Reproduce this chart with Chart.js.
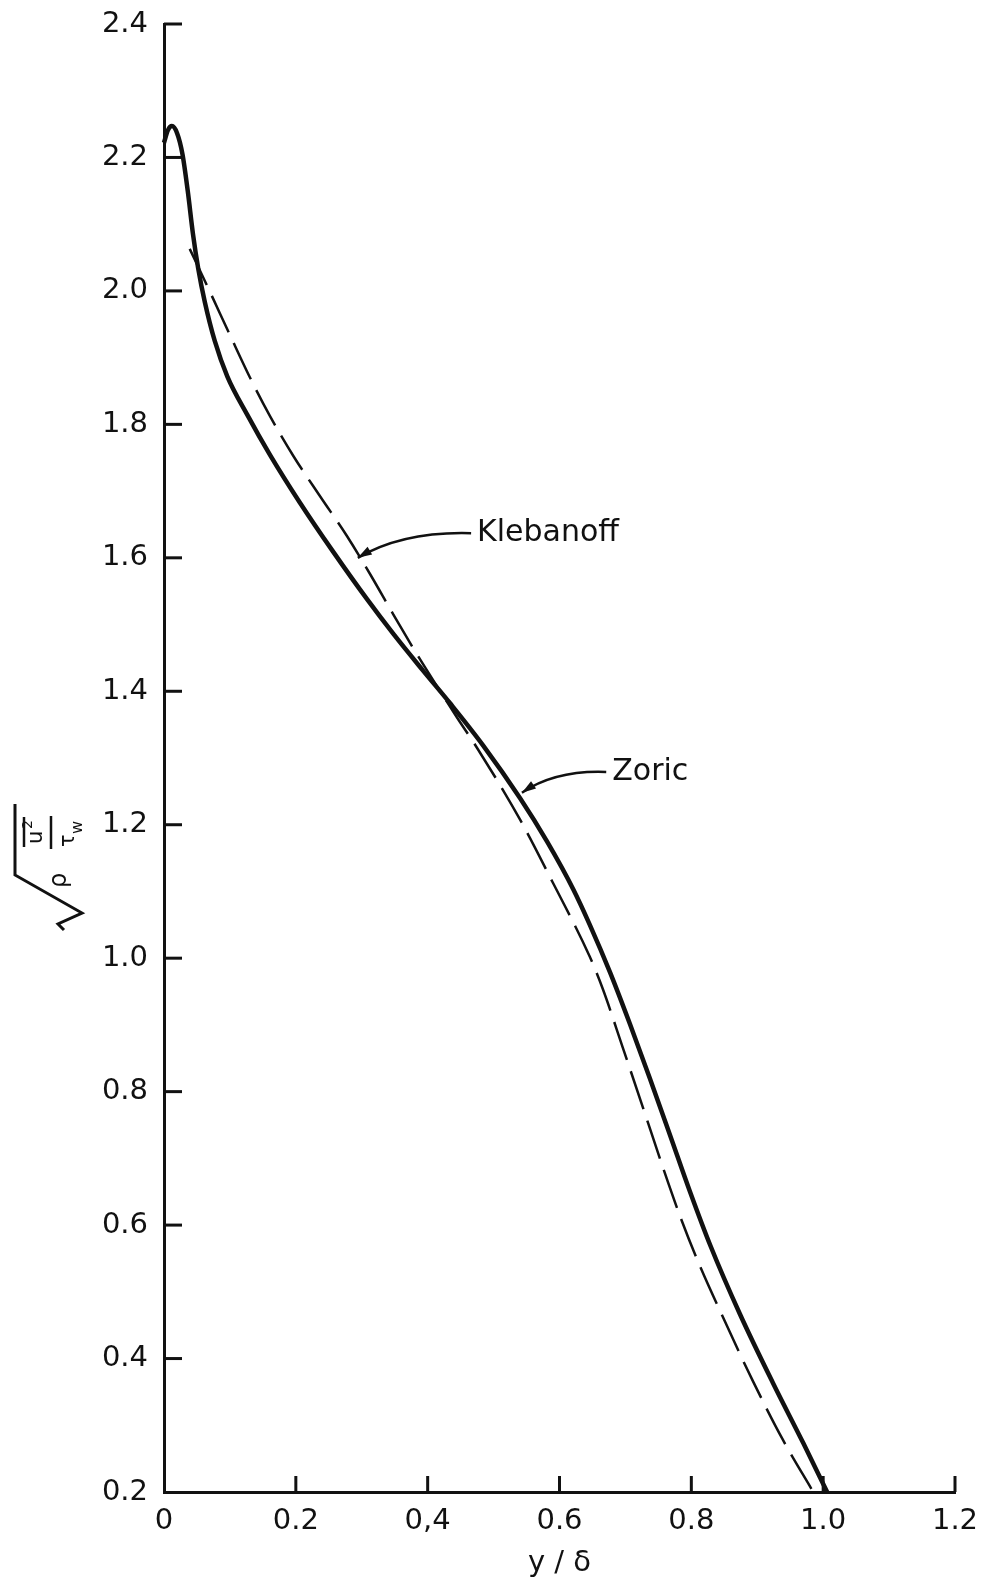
<!DOCTYPE html>
<html>
<head>
<meta charset="utf-8">
<script src="https://cdn.jsdelivr.net/npm/chart.js@4.4.1/dist/chart.umd.min.js"></script>
<style>
    html, body { margin: 0; padding: 0; background: #fff; }
    canvas { display: block; }
</style>
</head>
<body>
<canvas id="profileChart" width="991" height="1581"></canvas>
<script>
// Zoric (solid) - y/delta and rms value
const zoricX = [0, 0.006, 0.012, 0.020, 0.028, 0.036, 0.044, 0.052, 0.062, 0.077, 0.096, 0.126, 0.161, 0.206, 0.256, 0.308, 0.348, 0.393, 0.434, 0.484, 0.540, 0.581, 0.621, 0.646, 0.677, 0.707, 0.737, 0.768, 0.798, 0.829, 0.874, 0.924, 0.970, 1.006];
const zoricY = [2.222, 2.241, 2.247, 2.236, 2.205, 2.150, 2.085, 2.033, 1.983, 1.925, 1.872, 1.815, 1.754, 1.683, 1.610, 1.538, 1.486, 1.431, 1.382, 1.319, 1.240, 1.175, 1.103, 1.050, 0.978, 0.901, 0.820, 0.734, 0.650, 0.569, 0.466, 0.363, 0.273, 0.2];

// Klebanoff (dashed)
const klebanoffX = [0.039, 0.070, 0.100, 0.130, 0.161, 0.196, 0.237, 0.278, 0.313, 0.348, 0.384, 0.419, 0.445, 0.475, 0.540, 0.590, 0.646, 0.666, 0.696, 0.727, 0.757, 0.783, 0.809, 0.854, 0.894, 0.939, 0.985];
const klebanoffY = [2.063, 1.998, 1.934, 1.871, 1.812, 1.753, 1.692, 1.632, 1.575, 1.515, 1.455, 1.400, 1.360, 1.315, 1.208, 1.113, 1.002, 0.953, 0.866, 0.775, 0.686, 0.613, 0.548, 0.449, 0.365, 0.278, 0.2];

const xTicks = [0, 0.2, 0.4, 0.6, 0.8, 1.0, 1.2];
const xTickLabels = ['0', '0.2', '0,4', '0.6', '0.8', '1.0', '1.2'];
const yTicks = [0.2, 0.4, 0.6, 0.8, 1.0, 1.2, 1.4, 1.6, 1.8, 2.0, 2.2, 2.4];
const yTickLabels = ['0.2', '0.4', '0.6', '0.8', '1.0', '1.2', '1.4', '1.6', '1.8', '2.0', '2.2', '2.4'];

// curve labels: where the text starts and where the arrow points (data units)
const labelNames = ['Klebanoff', 'Zoric'];
const labelX = [0.475, 0.680];
const labelY = [1.637, 1.279];
const tipX = [0.294, 0.543];
const tipY = [1.600, 1.248];

const INK = '#111';
const FONT = '"DejaVu Sans", sans-serif';

function toPoints(xs, ys) {
    return xs.map((x, i) => ({ x: x, y: ys[i] }));
}

// ticks drawn inward from the axes, like the original
const inwardTicks = {
    id: 'inwardTicks',
    afterDraw(chart) {
        const { ctx, chartArea, scales } = chart;
        ctx.save();
        ctx.strokeStyle = INK;
        ctx.lineWidth = 3;
        yTicks.forEach(v => {
            if (v === yTicks[0]) return;
            const y = scales.y.getPixelForValue(v);
            ctx.beginPath();
            ctx.moveTo(chartArea.left, y);
            ctx.lineTo(chartArea.left + 18, y);
            ctx.stroke();
        });
        xTicks.forEach(v => {
            if (v === xTicks[0]) return;
            const x = scales.x.getPixelForValue(v);
            ctx.beginPath();
            ctx.moveTo(x, chartArea.bottom);
            ctx.lineTo(x, chartArea.bottom - 16);
            ctx.stroke();
        });
        ctx.restore();
    }
};

// "Klebanoff" / "Zoric" with curved arrows
const curveLabels = {
    id: 'curveLabels',
    afterDraw(chart) {
        const { ctx, scales } = chart;
        ctx.save();
        ctx.fillStyle = INK;
        ctx.strokeStyle = INK;
        ctx.font = '30px ' + FONT;
        ctx.textBaseline = 'middle';
        labelNames.forEach((name, i) => {
            const tx = scales.x.getPixelForValue(labelX[i]);
            const ty = scales.y.getPixelForValue(labelY[i]);
            const ax = scales.x.getPixelForValue(tipX[i]);
            const ay = scales.y.getPixelForValue(tipY[i]);
            ctx.fillText(name, tx, ty);

            const sx = tx - 6, sy = ty;
            const cx = ax + 0.4 * (sx - ax), cy = sy - 2;
            ctx.lineWidth = 2.5;
            ctx.beginPath();
            ctx.moveTo(sx, sy);
            ctx.quadraticCurveTo(cx, cy, ax, ay);
            ctx.stroke();

            const ang = Math.atan2(ay - cy, ax - cx);
            ctx.beginPath();
            ctx.moveTo(ax, ay);
            ctx.lineTo(ax - 14 * Math.cos(ang) + 4.5 * Math.sin(ang), ay - 14 * Math.sin(ang) - 4.5 * Math.cos(ang));
            ctx.lineTo(ax - 14 * Math.cos(ang) - 4.5 * Math.sin(ang), ay - 14 * Math.sin(ang) + 4.5 * Math.cos(ang));
            ctx.closePath();
            ctx.fill();
        });
        ctx.restore();
    }
};

// rotated y-axis label: sqrt( rho * mean(u^2) / tau_w )
const yAxisLabel = {
    id: 'yAxisLabel',
    afterDraw(chart) {
        const { ctx } = chart;
        ctx.save();
        ctx.translate(0, 930);
        ctx.rotate(-Math.PI / 2);
        ctx.strokeStyle = INK;
        ctx.fillStyle = INK;
        ctx.lineWidth = 3;
        ctx.lineJoin = 'miter';

        // radical sign
        ctx.beginPath();
        ctx.moveTo(0, 64);
        ctx.lineTo(6, 58);
        ctx.lineTo(17, 82);
        ctx.lineTo(55, 15);
        ctx.lineTo(126, 15);
        ctx.stroke();

        ctx.textBaseline = 'alphabetic';
        ctx.font = '24px ' + FONT;
        ctx.fillText('ρ', 42, 66);

        // numerator: overlined u squared
        ctx.font = '21px ' + FONT;
        ctx.fillText('u', 86, 42);
        ctx.font = '14px ' + FONT;
        ctx.fillText('2', 101, 32);
        ctx.lineWidth = 2.5;
        ctx.beginPath();
        ctx.moveTo(83, 24);
        ctx.lineTo(113, 24);
        ctx.stroke();

        // fraction bar
        ctx.beginPath();
        ctx.moveTo(81, 51);
        ctx.lineTo(114, 51);
        ctx.stroke();

        // denominator: tau_w
        ctx.font = '21px ' + FONT;
        ctx.fillText('τ', 83, 74);
        ctx.font = '16px ' + FONT;
        ctx.fillText('w', 96, 82);
        ctx.restore();
    }
};

function initProfileChart() {
    const ctx = document.getElementById('profileChart');
    if (!ctx) return;
    new Chart(ctx.getContext('2d'), {
        type: 'scatter',
        data: {
            datasets: [{
                label: 'Zoric',
                data: toPoints(zoricX, zoricY),
                showLine: true,
                borderColor: INK,
                borderWidth: 4.5,
                pointRadius: 0,
                cubicInterpolationMode: 'monotone',
                clip: false
            }, {
                label: 'Klebanoff',
                data: toPoints(klebanoffX, klebanoffY),
                showLine: true,
                borderColor: INK,
                borderWidth: 2.5,
                borderDash: [40, 12],
                pointRadius: 0,
                cubicInterpolationMode: 'monotone',
                clip: false
            }]
        },
        options: {
            responsive: false,
            animation: false,
            devicePixelRatio: 1,
            layout: {
                padding: { top: 24, right: 36, left: 0, bottom: 0 }
            },
            plugins: {
                legend: { display: false },
                tooltip: { enabled: false }
            },
            scales: {
                x: {
                    type: 'linear',
                    min: 0,
                    max: 1.2,
                    afterBuildTicks: scale => {
                        scale.ticks = xTicks.map(v => ({ value: v }));
                    },
                    afterFit: scale => {
                        scale.height = 89;
                        scale.paddingLeft = 0;
                        scale.paddingRight = 0;
                    },
                    ticks: {
                        color: INK,
                        font: { family: FONT, size: 29 },
                        padding: 12,
                        maxRotation: 0,
                        callback: (value, index) => xTickLabels[index]
                    },
                    grid: { drawOnChartArea: false, drawTicks: false },
                    border: { display: true, width: 3, color: INK },
                    title: {
                        display: true,
                        text: 'y / δ',
                        color: INK,
                        font: { family: FONT, size: 29 },
                        padding: { top: 0, bottom: 0 }
                    }
                },
                y: {
                    type: 'linear',
                    min: 0.2,
                    max: 2.4,
                    afterBuildTicks: scale => {
                        scale.ticks = yTicks.map(v => ({ value: v }));
                    },
                    afterFit: scale => {
                        scale.width = 164;
                        scale.paddingTop = 0;
                        scale.paddingBottom = 0;
                    },
                    ticks: {
                        color: INK,
                        font: { family: FONT, size: 29 },
                        padding: 16,
                        callback: (value, index) => yTickLabels[index]
                    },
                    grid: { drawOnChartArea: false, drawTicks: false },
                    border: { display: true, width: 3, color: INK }
                }
            }
        },
        plugins: [inwardTicks, curveLabels, yAxisLabel]
    });
}

document.addEventListener('DOMContentLoaded', () => {
    initProfileChart();
});
</script>
</body>
</html>
